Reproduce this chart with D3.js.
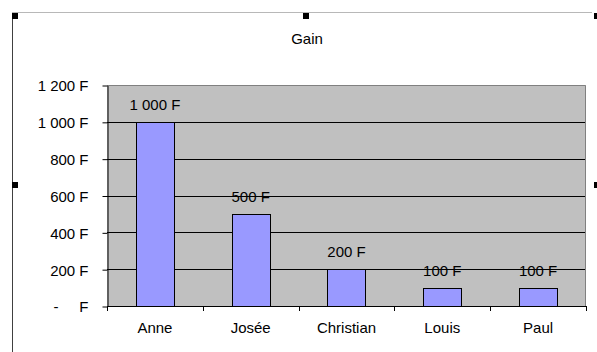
<!DOCTYPE html>
<html>
<head>
<meta charset="utf-8">
<script src="https://cdn.jsdelivr.net/npm/d3@7"></script>
<style>
  html, body { margin: 0; padding: 0; background: #fff; }
  svg text { font-family: "Liberation Sans", Arial, sans-serif; font-size: 15px; fill: #000; white-space: pre; }
</style>
</head>
<body>
<svg id="chart" width="597" height="352"></svg>
<script>
// Gain per person, in francs
const names = ["Anne", "Josée", "Christian", "Louis", "Paul"];
const gains = [1000, 500, 200, 100, 100];
const yTicks = [0, 200, 400, 600, 800, 1000, 1200];
const title = "Gain";

// French accounting style: "1 200 F", zero shown as a dash
const fmtF = v => v === 0 ? "-     F" : d3.format(",")(v).replace(/,/g, " ") + " F";

const svg = d3.select("#chart");
const W = 597, H = 352;
const plot = { left: 107, right: 586, top: 85, bottom: 306 };

const x = d3.scaleBand().domain(names).range([plot.left, plot.right]);
const y = d3.scaleLinear().domain([0, 1200]).range([plot.bottom, plot.top]);

// chart frame (selected chart object)
svg.append("line").attr("x1", 12).attr("x2", 592).attr("y1", 12.5).attr("y2", 12.5)
  .attr("stroke", "#b8b8b8").attr("stroke-width", 1);
svg.append("line").attr("x1", 12.5).attr("x2", 12.5).attr("y1", 13).attr("y2", H)
  .attr("stroke", "#404040").attr("stroke-width", 1);

// title
svg.append("text").attr("x", 307).attr("y", 44).attr("text-anchor", "middle").text(title);

// plot background
svg.append("rect")
  .attr("x", plot.left).attr("y", plot.top)
  .attr("width", plot.right - plot.left).attr("height", plot.bottom - plot.top)
  .attr("fill", "#c0c0c0");

// horizontal gridlines
svg.append("g").selectAll("line")
  .data(yTicks.filter(v => v > 0 && v < 1200))
  .join("line")
  .attr("x1", plot.left).attr("x2", plot.right)
  .attr("y1", d => Math.round(y(d)) + 0.5).attr("y2", d => Math.round(y(d)) + 0.5)
  .attr("stroke", "#000").attr("stroke-width", 1);

// plot border top/right
svg.append("path")
  .attr("d", `M${plot.left},${plot.top + 0.5}H${plot.right - 0.5}V${plot.bottom}`)
  .attr("fill", "none").attr("stroke", "#808080").attr("stroke-width", 1);

// bars (gap width 150%)
const barW = x.bandwidth() / 2.5;
svg.append("g").selectAll("rect")
  .data(names.map((n, i) => ({ name: n, value: gains[i] })))
  .join("rect")
  .attr("x", d => Math.round(x(d.name) + (x.bandwidth() - barW) / 2) + 0.5)
  .attr("y", d => Math.round(y(d.value)) + 0.5)
  .attr("width", Math.round(barW))
  .attr("height", d => Math.round(y(0)) - Math.round(y(d.value)))
  .attr("fill", "#9999ff").attr("stroke", "#000").attr("stroke-width", 1);

// value labels
svg.append("g").selectAll("text")
  .data(names.map((n, i) => ({ name: n, value: gains[i] })))
  .join("text")
  .attr("x", d => x(d.name) + x.bandwidth() / 2)
  .attr("y", d => y(d.value) - 12)
  .attr("text-anchor", "middle")
  .text(d => fmtF(d.value));

// y axis
const yAxis = svg.append("g")
  .attr("transform", `translate(${plot.left + 0.5},0.5)`)
  .call(d3.axisLeft(y).tickValues(yTicks).tickSize(5).tickPadding(14).tickFormat(fmtF).tickSizeOuter(0));
yAxis.select(".domain").attr("stroke", "#000");
yAxis.selectAll(".tick line").attr("stroke", "#000");
yAxis.selectAll("text").attr("font-size", null).attr("font-family", null).attr("dy", "0.36em");

// x axis line, tick marks at category boundaries
const xg = svg.append("g");
xg.append("line").attr("x1", plot.left).attr("x2", plot.right)
  .attr("y1", Math.round(y(0)) + 0.5).attr("y2", Math.round(y(0)) + 0.5).attr("stroke", "#000");
const bounds = names.map(n => x(n)).concat([x.range()[1]]);
xg.selectAll("line.tk").data(bounds).join("line").attr("class", "tk")
  .attr("x1", d => Math.round(d) + 0.5).attr("x2", d => Math.round(d) + 0.5)
  .attr("y1", Math.round(y(0))).attr("y2", Math.round(y(0)) + 5)
  .attr("stroke", "#000");
xg.selectAll("text").data(names).join("text")
  .attr("x", d => x(d) + x.bandwidth() / 2)
  .attr("y", 333)
  .attr("text-anchor", "middle")
  .text(d => d);

// selection handles
const handles = [[12, 13], [303, 13], [594, 13], [12, 182], [594, 182]];
svg.append("g").selectAll("rect").data(handles).join("rect")
  .attr("x", d => d[0]).attr("y", d => d[1]).attr("width", 6).attr("height", 6).attr("fill", "#000");
</script>
</body>
</html>
